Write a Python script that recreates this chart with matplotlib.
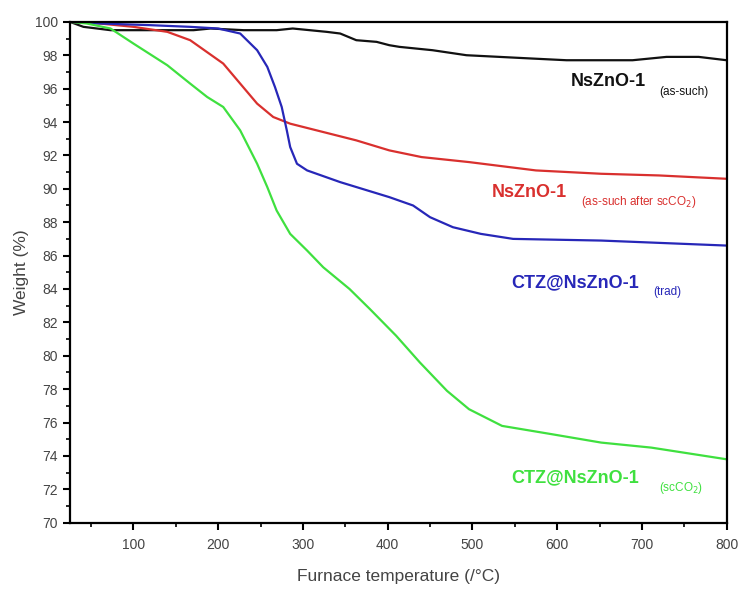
import matplotlib
matplotlib.use('Agg')
import matplotlib.pyplot as plt
from matplotlib.ticker import MultipleLocator

plt.rcParams['font.family'] = ['Liberation Sans', 'DejaVu Sans']

# TGA curves (temperature in C, weight in %)
t_asis = [25, 41, 73, 132, 171, 191, 230, 269, 288, 328, 344, 363, 387, 402,
          414, 453, 493, 532, 571, 611, 650, 689, 729, 767, 800]
w_asis = [100, 99.7, 99.5, 99.5, 99.5, 99.6, 99.5, 99.5, 99.6, 99.4, 99.3, 98.9,
          98.8, 98.6, 98.5, 98.3, 98.0, 97.9, 97.8, 97.7, 97.7, 97.7, 97.9, 97.9,
          97.7]

t_asis_sc = [25, 60, 100, 140, 167, 206, 226, 246, 265, 285, 324, 363, 402,
             440, 496, 575, 652, 720, 800]
w_asis_sc = [100, 99.9, 99.7, 99.4, 98.9, 97.5, 96.3, 95.1, 94.3, 93.9, 93.4,
             92.9, 92.3, 91.9, 91.6, 91.1, 90.9, 90.8, 90.6]

t_trad = [25, 60, 120, 167, 200, 226, 246, 258, 267, 275, 281, 285, 293, 305,
          344, 402, 430, 450, 477, 510, 548, 652, 800]
w_trad = [100, 99.9, 99.8, 99.7, 99.6, 99.3, 98.3, 97.3, 96.1, 94.9, 93.5, 92.5,
          91.5, 91.1, 90.4, 89.5, 89.0, 88.3, 87.7, 87.3, 87.0, 86.9, 86.6]

t_sc = [25, 45, 73, 100, 140, 167, 187, 206, 226, 246, 258, 269, 285, 305, 324,
        355, 379, 410, 438, 470, 496, 535, 594, 652, 711, 800]
w_sc = [100, 99.9, 99.6, 98.7, 97.4, 96.3, 95.5, 94.9, 93.5, 91.5, 90.1, 88.7,
        87.3, 86.3, 85.3, 84.0, 82.8, 81.2, 79.6, 77.9, 76.8, 75.8, 75.3, 74.8,
        74.5, 73.8]

series = [
    (t_asis, w_asis, '#111111', 'NsZnO-1', '(as-such)', 96.4),
    (t_asis_sc, w_asis_sc, '#d9302e', 'NsZnO-1', '(as-such after scCO$_2$)', 89.8),
    (t_trad, w_trad, '#2727b8', 'CTZ@NsZnO-1', '(trad)', 84.4),
    (t_sc, w_sc, '#3fe03f', 'CTZ@NsZnO-1', '(scCO$_2$)', 72.7),
]
label_end = [705, 612, 696, 696]
sub_start = [720, 628, 713, 720]

fig = plt.figure(figsize=(7.43, 5.90), dpi=100)
ax = fig.add_axes([0.094, 0.114, 0.884, 0.849])

for (t, w, c, name, sub, ly), xe, xs in zip(series, label_end, sub_start):
    ax.plot(t, w, color=c, lw=1.6)
    ax.text(xe, ly, name, color=c, fontsize=13, fontweight='bold',
            ha='right', va='center')
    ax.text(xs, ly - 0.6, sub, color=c, fontsize=8.5,
            ha='left', va='center')

ax.set_xlim(25, 800)
ax.set_ylim(70, 100)
ax.xaxis.set_major_locator(MultipleLocator(100))
ax.xaxis.set_minor_locator(MultipleLocator(50))
ax.yaxis.set_major_locator(MultipleLocator(2))
ax.yaxis.set_minor_locator(MultipleLocator(1))
ax.tick_params(which='major', direction='out', length=5, width=1.5,
               labelsize=10, labelcolor='#444444')
ax.tick_params(axis='x', which='major', pad=6)
ax.tick_params(which='minor', direction='out', length=3, width=1.2)
for s in ax.spines.values():
    s.set_linewidth(1.6)

ax.set_xlabel('Furnace temperature (/°C)', fontsize=12.5, color='#444444',
              labelpad=12)
ax.set_ylabel('Weight (%)', fontsize=12.5, color='#444444', labelpad=4)

fig.savefig('out.png', dpi=100)
